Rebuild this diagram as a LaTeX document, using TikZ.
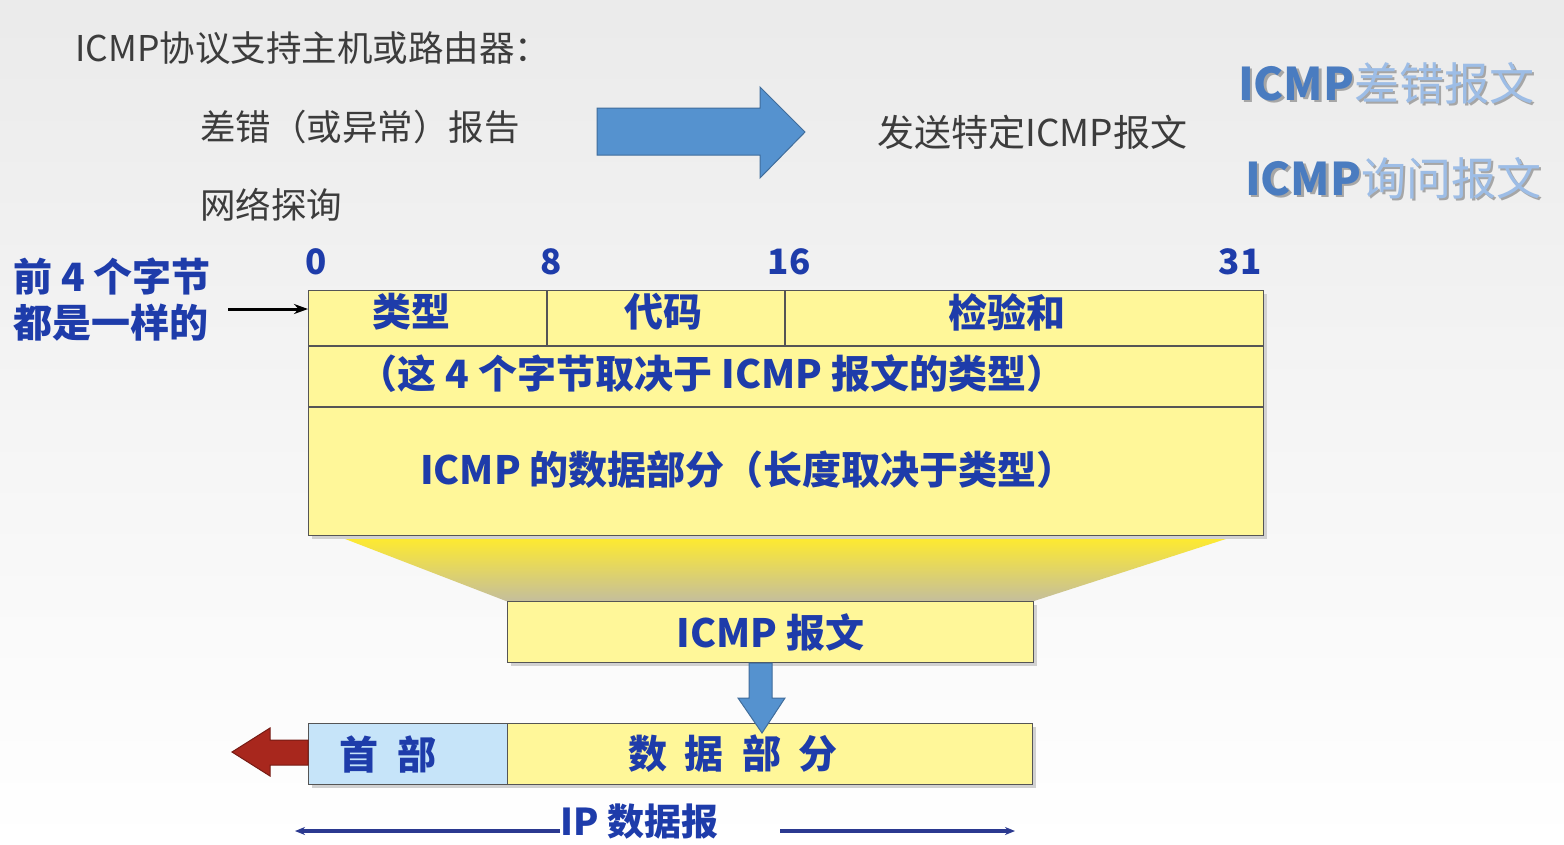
\documentclass[tikz,border=0pt]{standalone}
\usepackage{fontspec}
\setmainfont{Noto Sans CJK SC}
\usetikzlibrary{arrows.meta}

\definecolor{txtgray}{HTML}{3C3C3C}
\definecolor{lblue}{HTML}{1E3CAA}
\definecolor{boxgray}{HTML}{555555}
\definecolor{cellyellow}{HTML}{FFF799}
\definecolor{hdrblue}{HTML}{C6E4F9}
\definecolor{arrblue}{HTML}{5592CF}
\definecolor{arrred}{HTML}{A8271D}
\definecolor{navy}{HTML}{2B3990}
\definecolor{funtop}{HTML}{FFEB2E}
\definecolor{funbot}{HTML}{C4BE9C}
\definecolor{tblue}{HTML}{4A7CC0}
\definecolor{tlight}{HTML}{9DBDE6}

\begin{document}
\begin{tikzpicture}[x=1pt,y=-1pt,
  gtxt/.style={text=txtgray,font=\fontsize{35.5}{40}\selectfont,inner sep=0pt},
  btxt/.style={text=lblue,font=\fontsize{39}{46}\selectfont\bfseries,inner sep=0pt},
  ntxt/.style={text=lblue,font=\fontsize{35}{40}\selectfont\bfseries,inner sep=0pt},
  ttxt/.style={font=\fontsize{45}{50}\selectfont,inner sep=0pt},
  cell/.style={draw=boxgray,line width=1.2pt,fill=cellyellow,inner sep=0pt,anchor=north west},
  shd/.style={fill=black!18}]
  \useasboundingbox (0,0) rectangle (1564,844);
  \shade[top color=black!8,bottom color=white] (0,0) rectangle (1564,844);

  % top text
  \node[gtxt,anchor=west] (sup) at (75,48) {ICMP协议支持主机或路由器：};
  \node[gtxt,anchor=west] (err) at (200,127) {差错（或异常）报告};
  \node[gtxt,anchor=west] (qry) at (200,205) {网络探询};
  \node[gtxt,anchor=west,font=\fontsize{37}{42}\selectfont] (snd) at (877,132) {发送特定ICMP报文};
  \fill[arrblue,draw=arrblue!75!black,line width=1pt]
    (597,108) -- (760,108) -- (760,87) -- (805,132) -- (760,178) -- (760,155) -- (597,155) -- cycle;
  \foreach \n/\x/\y/\t in {terr/1238/83/差错报文,tqry/1245/178/询问报文} {
    \node[ttxt,anchor=west,text=black!35] at (\x+2.5,\y+2) {\textbf{ICMP}\t};
    \node[ttxt,anchor=west] (\n) at (\x,\y) {\textbf{\color{tblue}ICMP}\color{tlight}\t};
  }

  % funnel
  \shade[top color=funtop,bottom color=funbot] (340,537) -- (1232,537) -- (1034,601) -- (506,601) -- cycle;

  % ICMP header box
  \fill[shd] (312,294) rectangle (1267,539);
  \node[cell,minimum width=955pt,minimum height=245pt] (box) at (308,290) {};
  \draw[boxgray,line width=1.2pt] (308,346) -- (1263,346) (308,407) -- (1263,407)
    (547,290) -- (547,346) (785,290) -- (785,346);
  \foreach \x/\b in {316/0,551/8,789/16,1240/31} \node[ntxt] at (\x,262) {\b};
  \node[btxt] (typ) at (411,312) {类型};
  \node[btxt] (cod) at (663,312) {代码};
  \node[btxt] (chk) at (1007,312) {检验和};
  \node[btxt] (row2) at (712,374) {（这 4 个字节取决于 ICMP 报文的类型）};
  \node[btxt] (dat) at (748,470) {ICMP 的数据部分（长度取决于类型）};
  \node[btxt,align=left] (same) at (112,300) {前 4 个字节\\都是一样的};
  \coordinate (fa) at (228,309);
  \draw[-{Stealth[length=14pt,width=10pt]},line width=3pt] (fa) -- (fa -| box.west);

  % ICMP message
  \fill[shd] (511,605) rectangle (1037,666);
  \node[cell,minimum width=526pt,minimum height=61pt] (msg) at (507,601) {};
  \node[btxt] at (msg.center) {ICMP 报文};

  % IP datagram
  \fill[shd] (312,727) rectangle (1036,788);
  \node[cell,fill=hdrblue,minimum width=199pt,minimum height=61pt] (hdr) at (308,723) {};
  \node[cell,minimum width=525pt,minimum height=61pt] (pay) at (507,723) {};
  \node[btxt] at (388,754) {首\hspace{20pt}部};
  \node[btxt] at (733,754) {数\hspace{18pt}据\hspace{18pt}部\hspace{18pt}分};
  \fill[arrblue,draw=arrblue!75!black,line width=1pt]
    (749,663) -- (772,663) -- (772,698) -- (785,698) -- (762,733) -- (738,698) -- (749,698) -- cycle;
  \fill[arrred,draw=arrred!70!black,line width=1pt]
    (308,740) -- (270,740) -- (270,728) -- (232,752) -- (270,776) -- (270,765) -- (308,765) -- cycle;

  \node[btxt,anchor=west,font=\fontsize{37}{44}\selectfont\bfseries] (ipd) at (560,822) {IP 数据报};
  \coordinate (ipL) at (295,831);
  \coordinate (ipM) at (780,831);
  \coordinate (ipR) at (1015,831);
  \draw[navy,line width=3.5pt,-{Stealth[length=10pt,width=8pt]}] (ipd.west |- ipL) -- (ipL);
  \draw[navy,line width=3.5pt,-{Stealth[length=10pt,width=8pt]}] (ipM) -- (ipR);
\end{tikzpicture}
\end{document}
